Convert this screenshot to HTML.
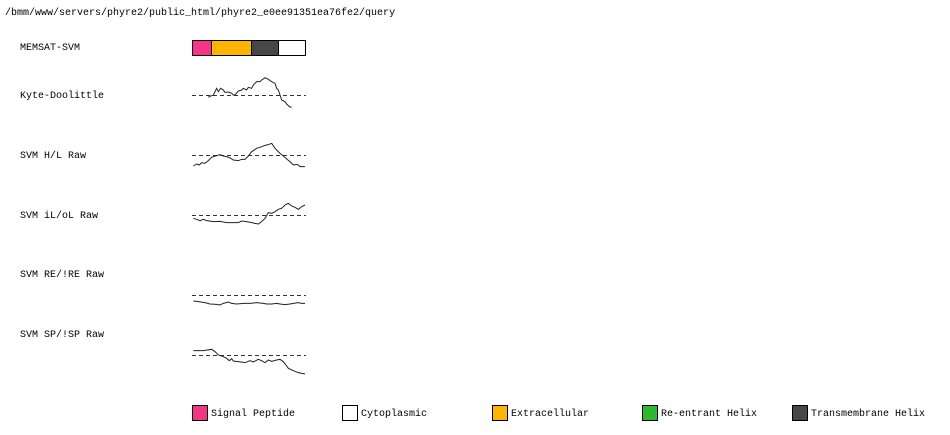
<!DOCTYPE html>
<html><head><meta charset="utf-8"><style>
body{margin:0;background:#fff;}
svg{display:block;}
text{font-family:"Liberation Mono",monospace;font-size:10px;fill:#000;}
</style></head><body>
<svg width="950" height="435" viewBox="0 0 950 435" xmlns="http://www.w3.org/2000/svg">
<rect width="950" height="435" fill="#fff"/>
<text x="5" y="15">/bmm/www/servers/phyre2/public_html/phyre2_e0ee91351ea76fe2/query</text>
<text x="20" y="50">MEMSAT-SVM</text>
<text x="20" y="98">Kyte-Doolittle</text>
<text x="20" y="158">SVM H/L Raw</text>
<text x="20" y="218">SVM iL/oL Raw</text>
<text x="20" y="277">SVM RE/!RE Raw</text>
<text x="20" y="337">SVM SP/!SP Raw</text>

<rect x="192.5" y="40.5" width="19" height="15" fill="#f43584" stroke="#000"/>
<rect x="211.5" y="40.5" width="40" height="15" fill="#ffb400" stroke="#000"/>
<rect x="251.5" y="40.5" width="27" height="15" fill="#474747" stroke="#000"/>
<rect x="278.5" y="40.5" width="27" height="15" fill="#fff" stroke="#000"/>

<g stroke="#333" stroke-width="1" stroke-dasharray="4,3">
<line x1="192" y1="95.5" x2="306" y2="95.5"/>
<line x1="192" y1="155.5" x2="306" y2="155.5"/>
<line x1="192" y1="215.5" x2="306" y2="215.5"/>
<line x1="192" y1="295.5" x2="306" y2="295.5"/>
<line x1="192" y1="355.5" x2="306" y2="355.5"/>
</g>
<g transform="translate(180,30) scale(0.33333)" fill="none" stroke="#222" stroke-width="1">
<polyline vector-effect="non-scaling-stroke" points="85,202 92,198 100,196 105,185 110,175 115,185 122,175 130,180 135,187 145,186 155,190 160,195 165,195 175,183 185,180 190,175 200,180 205,172 215,175 220,165 230,155 240,155 245,150 255,143 265,148 275,155 285,160 290,175 295,180 300,195 305,210 315,215 320,222 328,230 335,232"/>
<polyline vector-effect="non-scaling-stroke" points="40,408 50,402 58,405 65,398 75,400 85,392 95,382 110,377 120,374 130,378 140,380 150,384 160,390 175,392 185,388 195,388 205,378 215,365 230,355 245,350 255,346 265,344 275,340 285,355 300,370 310,378 320,387 330,395 340,405 350,403 355,405 360,410 375,410"/>
<polyline vector-effect="non-scaling-stroke" points="40,565 50,568 60,572 70,568 80,572 100,575 120,574 140,578 160,578 175,578 185,573 200,575 215,578 225,580 235,582 245,575 255,565 265,548 275,550 285,545 295,538 305,535 315,525 325,520 335,528 345,532 355,538 365,530 375,525"/>
</g>
<g transform="translate(180,280) scale(0.33333)" fill="none" stroke="#222" stroke-width="1">
<polyline vector-effect="non-scaling-stroke" points="40,63 55,65 75,68 90,72 110,73 120,75 130,70 145,66 155,70 170,72 190,70 210,70 230,68 250,70 260,72 275,72 290,70 300,72 315,74 330,72 340,70 355,68 365,70 375,70"/>
<polyline vector-effect="non-scaling-stroke" points="40,212 70,212 95,208 105,215 115,225 130,230 140,235 148,242 155,236 160,243 175,245 195,248 210,242 220,246 235,238 245,242 255,248 265,240 275,244 290,240 300,238 310,245 320,258 325,265 340,272 355,278 375,282"/>
</g>

<rect x="192.5" y="405.5" width="15" height="15" fill="#f43584" stroke="#000"/>
<text x="211" y="416">Signal Peptide</text>
<rect x="342.5" y="405.5" width="15" height="15" fill="#fff" stroke="#000"/>
<text x="361" y="416">Cytoplasmic</text>
<rect x="492.5" y="405.5" width="15" height="15" fill="#ffb400" stroke="#000"/>
<text x="511" y="416">Extracellular</text>
<rect x="642.5" y="405.5" width="15" height="15" fill="#2db82d" stroke="#000"/>
<text x="661" y="416">Re-entrant Helix</text>
<rect x="792.5" y="405.5" width="15" height="15" fill="#474747" stroke="#000"/>
<text x="811" y="416">Transmembrane Helix</text>
</svg>
</body></html>
